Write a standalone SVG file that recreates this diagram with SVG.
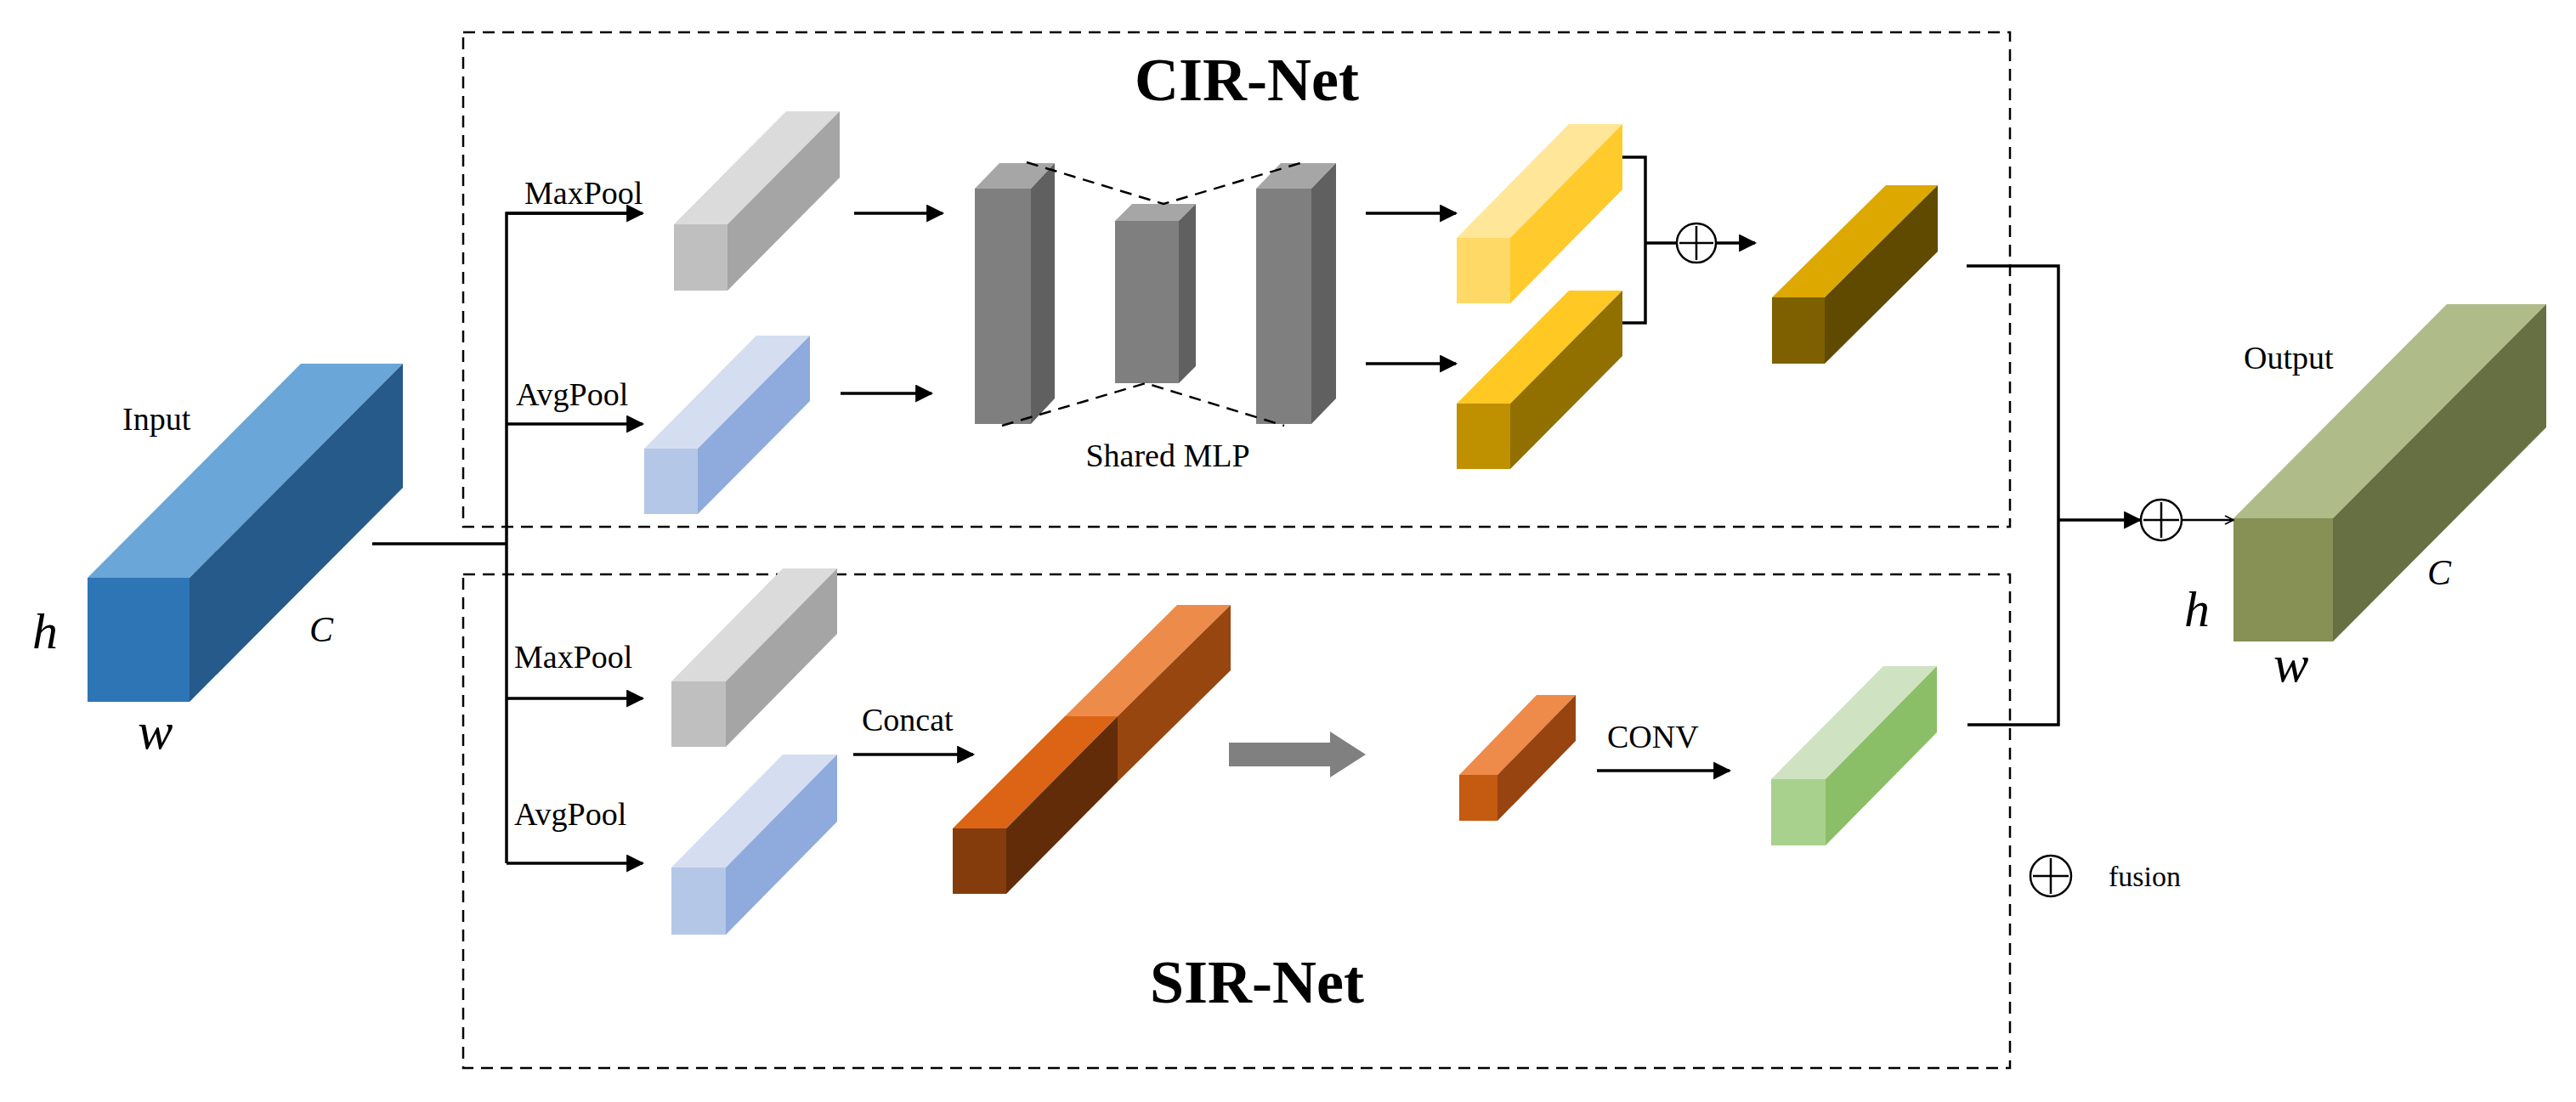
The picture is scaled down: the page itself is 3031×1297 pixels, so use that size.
<svg xmlns="http://www.w3.org/2000/svg" width="3031" height="1297" viewBox="0 0 3031 1297">
<style>
text{font-family:"Liberation Serif","Times New Roman",serif;fill:#000}
.lbl{font-size:38px}
.ttl{font-size:72px;font-weight:bold}
.it{font-style:italic}
.ln{stroke:#000;stroke-width:3.5;fill:none}
.dash{stroke:#000;stroke-width:2.5;fill:none;stroke-dasharray:14 9}
.circ{stroke:#000;stroke-width:2.5;fill:#fff}
</style>
<defs>
<marker id="ah" viewBox="0 0 10 10" refX="9" refY="5" markerWidth="7" markerHeight="6" markerUnits="strokeWidth" orient="auto"><path d="M0,0L10,5L0,10z" fill="#000"/></marker>
<marker id="oa" viewBox="0 0 10 10" refX="9" refY="5" markerWidth="5" markerHeight="6" markerUnits="strokeWidth" orient="auto"><path d="M1,1L9,5L1,9" fill="none" stroke="#000" stroke-width="1.5"/></marker>
</defs>

<g id="frames">
<rect class="dash" x="545" y="38" width="1820" height="582"/>
<rect class="dash" x="545" y="676" width="1820" height="581"/>
<text class="ttl" x="1467" y="118" text-anchor="middle">CIR-Net</text>
<text class="ttl" x="1479" y="1180" text-anchor="middle">SIR-Net</text>
</g>

<g id="input">
<polygon points="103,680 354,428 474,428 223,680" fill="#6AA6D8"/>
<polygon points="223,680 474,428 474,574 223,826" fill="#255A8A"/>
<rect x="103" y="680" width="120" height="146" fill="#2E75B6"/>
<text class="lbl" x="144" y="506">Input</text>
<text class="it" x="38" y="763" font-size="60">h</text>
<text class="it" x="364" y="755" font-size="42">C</text>
<text class="it" x="162" y="881" font-size="62">w</text>
</g>

<g id="cir-maxpool">
<polygon points="793,264 925,131 988,131 856,264" fill="#DBDBDB"/>
<polygon points="856,264 988,131 988,209 856,342" fill="#A5A5A5"/>
<rect x="793" y="264" width="63" height="78" fill="#BFBFBF"/>
</g>
<g id="cir-avgpool">
<polygon points="758,528 890,395 953,395 821,528" fill="#D5DEF0"/>
<polygon points="821,528 953,395 953,472 821,605" fill="#8FAADC"/>
<rect x="758" y="528" width="63" height="77" fill="#B4C7E7"/>
</g>

<g id="mlp">
<polygon points="1147,222 1176,192 1241,192 1213,222" fill="#A6A6A6"/>
<polygon points="1213,222 1241,192 1241,469 1213,499" fill="#606060"/>
<rect x="1147" y="222" width="66" height="277" fill="#7F7F7F"/>
<polygon points="1312,260 1332,240 1407,240 1387,260" fill="#A6A6A6"/>
<polygon points="1387,260 1407,240 1407,431 1387,451" fill="#606060"/>
<rect x="1312" y="260" width="75" height="191" fill="#7F7F7F"/>
<polygon points="1478,222 1507,192 1572,192 1543,222" fill="#A6A6A6"/>
<polygon points="1543,222 1572,192 1572,469 1543,499" fill="#606060"/>
<rect x="1478" y="222" width="65" height="277" fill="#7F7F7F"/>
<polyline class="dash" points="1208,191 1369,240 1533,191"/>
<polyline class="dash" points="1179,501 1348,451 1511,501"/>
<text class="lbl" x="1374" y="549" text-anchor="middle">Shared MLP</text>
</g>

<g id="yellow1">
<polygon points="1714,280 1846,146 1909,146 1777,280" fill="#FFE699"/>
<polygon points="1777,280 1909,146 1909,223 1777,357" fill="#FFCA2C"/>
<rect x="1714" y="280" width="63" height="77" fill="#FFD966"/>
</g>
<g id="yellow2">
<polygon points="1714,475 1846,342 1909,342 1777,475" fill="#FFC822"/>
<polygon points="1777,475 1909,342 1909,419 1777,552" fill="#917000"/>
<rect x="1714" y="475" width="63" height="77" fill="#BF9000"/>
</g>
<g id="gold">
<polygon points="2085,350 2219,218 2280,218 2147,350" fill="#DDA800"/>
<polygon points="2147,350 2280,218 2280,296 2147,428" fill="#5F4A00"/>
<rect x="2085" y="350" width="62" height="78" fill="#7F6000"/>
</g>

<g id="sir-maxpool">
<polygon points="790,802 921,669 985,669 854,802" fill="#DBDBDB"/>
<polygon points="854,802 985,669 985,746 854,879" fill="#A5A5A5"/>
<rect x="790" y="802" width="64" height="77" fill="#BFBFBF"/>
</g>
<g id="sir-avgpool">
<polygon points="790,1021 921,888 985,888 854,1021" fill="#D5DEF0"/>
<polygon points="854,1021 985,888 985,967 854,1100" fill="#8FAADC"/>
<rect x="790" y="1021" width="64" height="79" fill="#B4C7E7"/>
</g>

<g id="concat-block">
<polygon points="1253,843 1385,712 1448,712 1315,843" fill="#ED8B4A"/>
<polygon points="1315,843 1448,712 1448,789 1315,920" fill="#984610"/>
<polygon points="1121,975 1253,843 1315,843 1184,975" fill="#DC6415"/>
<polygon points="1184,975 1315,843 1315,920 1184,1052" fill="#622C09"/>
<rect x="1121" y="975" width="63" height="77" fill="#843C0C"/>
</g>

<g id="small-orange">
<polygon points="1717,912 1808,818 1854,818 1762,912" fill="#EE8A4A"/>
<polygon points="1762,912 1854,818 1854,872 1762,966" fill="#974410"/>
<rect x="1717" y="912" width="45" height="54" fill="#C55A11"/>
</g>

<g id="green">
<polygon points="2084,917 2216,784 2279,784 2148,917" fill="#CFE3C2"/>
<polygon points="2148,917 2279,784 2279,862 2148,995" fill="#8BBF67"/>
<rect x="2084" y="917" width="64" height="78" fill="#A9D18E"/>
</g>

<g id="output">
<polygon points="2628,610 2879,358 2996,358 2745,610" fill="#B0BB8A"/>
<polygon points="2745,610 2996,358 2996,503 2745,755" fill="#677043"/>
<rect x="2628" y="610" width="117" height="145" fill="#879055"/>
<text class="lbl" x="2640" y="434">Output</text>
<text class="it" x="2570" y="737" font-size="60">h</text>
<text class="it" x="2856" y="688" font-size="42">C</text>
<text class="it" x="2675" y="802" font-size="62">w</text>
</g>

<g id="connectors">
<polyline class="ln" points="438,640 596,640"/>
<polyline class="ln" points="756,251 596,251 596,1016"/>
<line class="ln" x1="596" y1="251" x2="756" y2="251" marker-end="url(#ah)"/>
<line class="ln" x1="596" y1="1016" x2="756" y2="1016" marker-end="url(#ah)"/>
<line class="ln" x1="596" y1="499" x2="756" y2="499" marker-end="url(#ah)"/>
<line class="ln" x1="596" y1="822" x2="756" y2="822" marker-end="url(#ah)"/>
<line class="ln" x1="1005" y1="251" x2="1109" y2="251" marker-end="url(#ah)"/>
<line class="ln" x1="989" y1="463" x2="1096" y2="463" marker-end="url(#ah)"/>
<line class="ln" x1="1607" y1="251" x2="1713" y2="251" marker-end="url(#ah)"/>
<line class="ln" x1="1607" y1="428" x2="1713" y2="428" marker-end="url(#ah)"/>
<polyline class="ln" points="1909,185 1936,185 1936,380 1909,380"/>
<line class="ln" x1="1936" y1="286" x2="2065" y2="286" marker-end="url(#ah)"/>
<line class="ln" x1="1004" y1="888" x2="1145" y2="888" marker-end="url(#ah)"/>
<polygon points="1446,874 1565,874 1565,861 1607,888 1565,915 1565,902 1446,902" fill="#808080"/>
<line class="ln" x1="1879" y1="907" x2="2035" y2="907" marker-end="url(#ah)"/>
<polyline class="ln" points="2314,313 2422,313 2422,853 2315,853"/>
<line class="ln" x1="2422" y1="612" x2="2518" y2="612" marker-end="url(#ah)"/>
<line x1="2567" y1="612" x2="2628" y2="612" stroke="#000" stroke-width="2.5" marker-end="url(#oa)"/>
<text class="lbl" x="617" y="240">MaxPool</text>
<text class="lbl" x="607" y="477">AvgPool</text>
<text class="lbl" x="605" y="786">MaxPool</text>
<text class="lbl" x="605" y="971">AvgPool</text>
<text class="lbl" x="1014" y="860">Concat</text>
<text class="lbl" x="1891" y="880">CONV</text>
</g>

<g id="fusion-ops">
<circle class="circ" cx="1996" cy="286" r="23"/>
<path d="M1976,286H2016M1996,266V306" stroke="#000" stroke-width="2.5"/>
<circle class="circ" cx="2543" cy="612" r="24"/>
<path d="M2522,612H2564M2543,591V633" stroke="#000" stroke-width="2.5"/>
<circle class="circ" cx="2413" cy="1031" r="24"/>
<path d="M2392,1031H2434M2413,1010V1052" stroke="#000" stroke-width="2.5"/>
<text x="2481" y="1043" font-size="34">fusion</text>
</g>
</svg>
